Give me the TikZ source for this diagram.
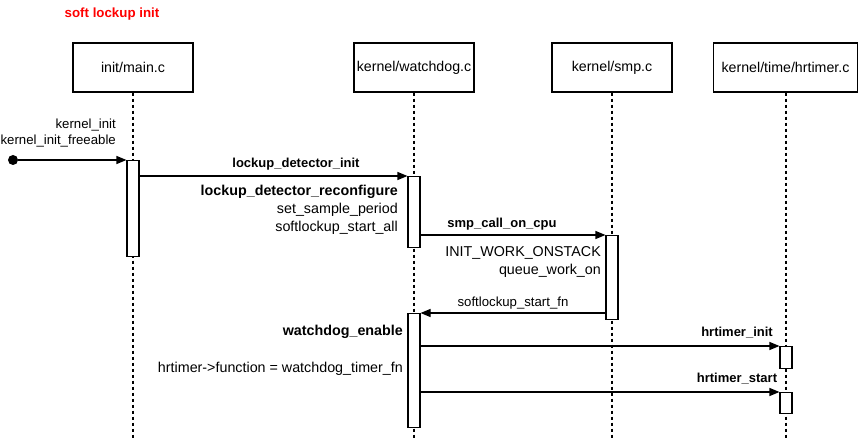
\documentclass[tikz,border=0pt]{standalone}
\usepackage{fontspec}
\setmainfont{Liberation Sans}
\usetikzlibrary{arrows.meta,calc}
\begin{document}
\begin{tikzpicture}[x=1pt,y=-1pt,
  txt/.style={font=\fontsize{14.3}{17}\selectfont, inner sep=0pt},
  txtb/.style={font=\fontsize{14.3}{17}\selectfont\bfseries, inner sep=0pt},
  msglbl/.style={font=\fontsize{13}{16}\selectfont\bfseries, inner sep=0pt},
  header/.style={draw, line width=1.1pt, fill=white, minimum width=120pt,
    minimum height=49pt, inner sep=0pt, font=\fontsize{14.2}{17}\selectfont},
  lifeline/.style={line width=1.1pt, dash pattern=on 3pt off 3pt},
  act/.style={draw, line width=1.1pt, fill=white, minimum width=12pt,
    inner sep=0pt, anchor=north},
  msg/.style={line width=1.1pt, -{Triangle[length=10pt,width=8pt]}},
  startdot/.style={circle, fill=black, minimum size=10pt, inner sep=0pt},
]
\useasboundingbox (0,0) rectangle (865,446);

% title
\node[font=\fontsize{13.3}{16}\selectfont\bfseries, inner sep=0pt, text=red]
  (title) at (112,14) {soft lockup init};

% participants
\node[header] (main) at (133,67.5) {init/main.c};
\node[header] (wdog) at (414,67.5) {kernel/watchdog.c};
\node[header] (smp)  at (612,67.5) {kernel/smp.c};
\node[header, minimum width=144pt] (hrt) at (785.5,67.5) {kernel/time/hrtimer.c};

% lifeline ends
\coordinate (mainEnd) at (133,440);
\coordinate (wdogEnd) at (414,440);
\coordinate (smpEnd)  at (612,440);
\coordinate (hrtEnd)  at (786,440);

\draw[lifeline] (main.south) -- (mainEnd);
\draw[lifeline] (wdog.south) -- (wdogEnd);
\draw[lifeline] (smp.south)  -- (smpEnd);
\draw[lifeline] (hrt.south -| hrtEnd) -- (hrtEnd);

% activations
\node[act, minimum height=96pt]  (m1) at (133,160) {};
\node[act, minimum height=71pt]  (w1) at (414,176) {};
\node[act, minimum height=84pt]  (s1) at (612,235) {};
\node[act, minimum height=114pt] (w2) at (414,313) {};
\node[act, minimum height=22pt]  (h1) at (786,346) {};
\node[act, minimum height=21pt]  (h2) at (786,392) {};

% entry into kernel_init
\node[startdot] (start) at (13,160) {};
\draw[msg] (start) -- (m1.north west);
\node[font=\fontsize{13.2}{16}\selectfont, inner sep=0pt, anchor=east, align=right]
  (kinit) at (116,133) {kernel\_init\\kernel\_init\_freeable};

% init -> watchdog
\draw[msg] (w1.north west -| m1.east) -- (w1.north west);
\node[msglbl] (ldi) at (296,164) {lockup\_detector\_init};
\node[txtb, anchor=east] (ldr) at (398,192) {lockup\_detector\_reconfigure};
\node[txt, anchor=east] (ssp) at (398,210) {set\_sample\_period};
\node[txt, anchor=east] (ssa) at (398,228) {softlockup\_start\_all};

% watchdog -> smp
\draw[msg] (s1.north west -| w1.east) -- (s1.north west);
\node[msglbl] (scoc) at (502,224) {smp\_call\_on\_cpu};
\node[txt, anchor=east] (iwo) at (601,253) {INIT\_WORK\_ONSTACK};
\node[txt, anchor=east] (qwo) at (601,271) {queue\_work\_on};

% smp -> watchdog
\draw[msg] (w2.north east -| s1.west) -- (w2.north east);
\node[inner sep=0pt, font=\fontsize{13.2}{16}\selectfont] (ssf) at (513,303) {softlockup\_start\_fn};

% watchdog -> hrtimer
\node[txtb, anchor=east] (wde) at (403,332) {watchdog\_enable};
\node[txt, anchor=east] (hfn) at (403,369) {hrtimer->function = watchdog\_timer\_fn};
\draw[msg] (h1.north west -| w2.east) -- (h1.north west);
\node[msglbl] (hi) at (737,333) {hrtimer\_init};
\draw[msg] (h2.north west -| w2.east) -- (h2.north west);
\node[msglbl] (hs) at (737,379) {hrtimer\_start};
\end{tikzpicture}
\end{document}
